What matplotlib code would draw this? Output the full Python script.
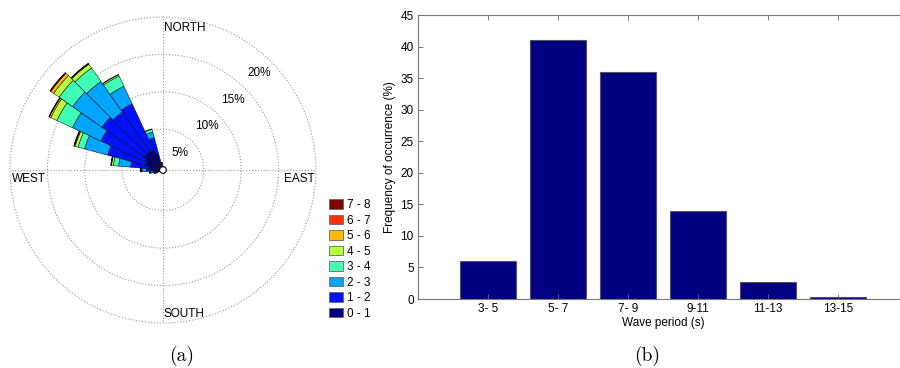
import numpy as np
import matplotlib
matplotlib.use("Agg")
import matplotlib.pyplot as plt
from matplotlib.patches import Patch

plt.rcParams['font.family'] = ['Liberation Sans', 'DejaVu Sans']

# ---- wave rose data: frequency (%) per direction sector and height bin ----
directions = [250, 260, 270, 280, 290, 300, 310, 320, 330, 340, 350]
hs_0_1 = [0.40, 0.60, 1.00, 1.50, 1.90, 2.10, 2.50, 2.50, 2.50, 1.80, 0.50]
hs_1_2 = [0.20, 0.30, 0.80, 2.40, 5.30, 6.60, 7.00, 6.50, 6.80, 2.20, 0.10]
hs_2_3 = [0.10, 0.30, 0.50, 1.60, 3.20, 4.20, 4.80, 5.00, 2.60, 0.80, 0.00]
hs_3_4 = [0.05, 0.10, 0.15, 0.70, 0.90, 2.30, 2.20, 2.20, 1.50, 0.40, 0.00]
hs_4_5 = [0.02, 0.05, 0.05, 0.25, 0.40, 0.90, 0.90, 0.60, 0.20, 0.05, 0.00]
hs_5_6 = [0.00, 0.01, 0.02, 0.05, 0.10, 0.20, 0.45, 0.10, 0.05, 0.00, 0.00]
hs_6_7 = [0.00, 0.00, 0.01, 0.03, 0.05, 0.05, 0.10, 0.03, 0.00, 0.00, 0.00]
hs_7_8 = [0.00, 0.00, 0.01, 0.02, 0.05, 0.05, 0.05, 0.02, 0.00, 0.00, 0.00]
height_bins = ['0 - 1', '1 - 2', '2 - 3', '3 - 4', '4 - 5', '5 - 6', '6 - 7', '7 - 8']
rose_rings = [5, 10, 15, 20]

# ---- wave period histogram ----
period_classes = ['3- 5', '5- 7', '7- 9', '9-11', '11-13', '13-15']
period_freq = [6.0, 41.0, 36.0, 14.0, 2.7, 0.3]

FS = 8.5
fig = plt.figure(figsize=(9.0, 3.68), dpi=100)

# ================= (a) wave rose =================
ax = fig.add_axes([0.0111, 0.1223, 0.34, 0.8315], projection='polar')
ax.set_theta_zero_location('N')
ax.set_theta_direction(-1)
ax.set_rorigin(-0.45)
ax.set_ylim(0, 20)
ax.patch.set_edgecolor('none')
ax.patch.set_linewidth(0)

series = [hs_0_1, hs_1_2, hs_2_3, hs_3_4, hs_4_5, hs_5_6, hs_6_7, hs_7_8]
colors = plt.cm.jet(np.linspace(0, 1, len(series)))
theta = np.radians(directions)
width = np.radians(10)
bottom = np.zeros(len(directions))
for vals, col in zip(series, colors):
    vals = np.asarray(vals)
    keep = vals > 0
    ax.bar(theta[keep], vals[keep], width=width, bottom=bottom[keep], color=col,
           edgecolor='black', linewidth=0.35, align='center', zorder=3)
    bottom += vals

ax.set_rticks(rose_rings)
ax.set_yticklabels([])
ax.set_xticks(np.radians([0, 90, 180, 270]))
ax.set_xticklabels([])
ax.tick_params(axis='both', length=0)
ax.grid(True, color='#9a9a9a', linestyle=':', linewidth=0.8)
for gl in ax.yaxis.get_gridlines():
    gl.set_clip_on(False)
for name in ('polar', 'inner', 'start', 'end'):
    if name in ax.spines:
        ax.spines[name].set_visible(False)

for ring in rose_rings:
    ax.text(np.radians(45), ring - 2.2, f'{ring}%', ha='center', va='center',
            fontsize=FS, zorder=5)

lab_kw = dict(textcoords='offset points', fontsize=FS, annotation_clip=False)
ax.annotate('NORTH', xy=(0, 20), xytext=(0.5, -3.5), ha='left', va='top', **lab_kw)
ax.annotate('SOUTH', xy=(np.pi, 20), xytext=(0.5, 2), ha='left', va='bottom', **lab_kw)
ax.annotate('WEST', xy=(1.5 * np.pi, 20), xytext=(1.5, -2), ha='left', va='top', **lab_kw)
ax.annotate('EAST', xy=(0.5 * np.pi, 20), xytext=(-1, -2), ha='right', va='top', **lab_kw)

handles = [Patch(facecolor=c, edgecolor='#666666', linewidth=0.6) for c in colors]
fig.legend(handles[::-1], height_bins[::-1], loc='upper left',
           bbox_to_anchor=(0.3656, 0.4592), frameon=False, fontsize=FS,
           handlelength=1.2, handleheight=0.85, labelspacing=0.3,
           handletextpad=0.35, borderpad=0, borderaxespad=0)

# ================= (b) wave period histogram =================
ax2 = fig.add_axes([0.4644, 0.1875, 0.5444, 0.7717])
x = np.arange(1, len(period_freq) + 1)
ax2.bar(x, period_freq, width=0.8, color='#000080', edgecolor='#555555', linewidth=0.8)
ax2.set_xlim(0, 7)
ax2.set_ylim(0, 45)
ax2.set_yticks(np.arange(0, 46, 5))
ax2.set_xticks(x)
ax2.set_xticklabels(period_classes)
ax2.tick_params(direction='in', top=True, right=True, length=3.5, width=0.6,
                labelsize=FS, color='#666666', pad=3)
for sp in ax2.spines.values():
    sp.set_color('#777777')
    sp.set_linewidth(0.8)
ax2.set_xlabel('Wave period (s)', fontsize=FS, labelpad=1)
ax2.set_ylabel('Frequency of occurrence (%)', fontsize=FS, labelpad=3)

# ---- captions ----
cap_kw = dict(ha='center', va='center', fontsize=14, family=['cmr10', 'DejaVu Serif'])
fig.text(182 / 900, 1 - 356 / 368, '(a)', **cap_kw)
fig.text(647 / 900, 1 - 356 / 368, '(b)', **cap_kw)

fig.savefig('out.png', dpi=100)
